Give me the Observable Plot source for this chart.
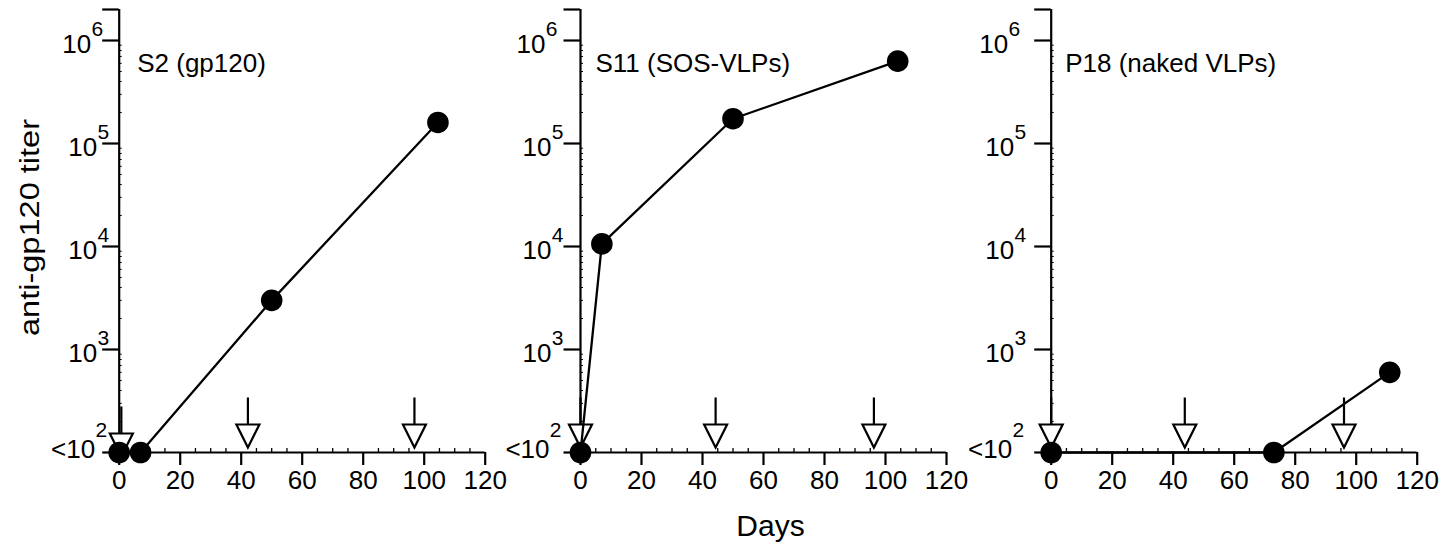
<!DOCTYPE html>
<html>
<head>
<meta charset="utf-8">
<script src="https://cdn.jsdelivr.net/npm/d3@7"></script>
<script src="https://cdn.jsdelivr.net/npm/@observablehq/plot@0.6"></script>
<style>
  html, body { margin: 0; padding: 0; background: #fff; }
  #wrap { position: relative; width: 1442px; height: 546px; overflow: hidden; background: #fff; }
  .panel { position: absolute; top: 0; }
</style>
</head>
<body>
<div id="wrap"></div>
<script>
// ---------------- data ----------------
const panelNames = ["S2 (gp120)", "S11 (SOS-VLPs)", "P18 (naked VLPs)"];

const s2Days   = [0, 7, 50, 104.5];
const s2Titer  = [100, 100, 3000, 160000];
const s11Days  = [0, 7, 50, 104];
const s11Titer = [100, 10600, 174000, 630000];
const p18Days  = [0, 73, 111];
const p18Titer = [100, 100, 600];

// immunization arrows (days)
const s2Arrows  = [0.7, 42.2, 96.8];
const s11Arrows = [0, 44.3, 96.2];
const p18Arrows = [0, 43.8, 96];

const xTicks = [0, 20, 40, 60, 80, 100, 120];
const yMajor = [100, 1e3, 1e4, 1e5, 1e6, 2e6];
const yDecades = [1e3, 1e4, 1e5];
const yDecadeExps = ["3", "4", "5"];
const yTopDecade = [1e6];
const yTopExp = ["6"];
const yBase = [100];
const yBaseText = ["<10"];
const yBaseExp = ["2"];
const yTitle = "anti-gp120 titer";
const xTitle = "Days";

// ---------------- layout / style ----------------
const FONT = '"Liberation Sans", Arial, Helvetica, sans-serif';
const layout = [
  {left: 0,   width: 490, ml: 118.7, mr: 5.3,  lab: -10, titleDx: 18, firstArrowDy: 9},
  {left: 490, width: 470, ml: 90,    mr: 14,   lab: -17, titleDx: 15, firstArrowDy: 0},
  {left: 960, width: 482, ml: 90.7,  mr: 25.3, lab: -25, titleDx: 14, firstArrowDy: 0}
];
const H = 546, MT = 9, MB = 94;

const series = [
  {days: s2Days, titer: s2Titer, arrows: s2Arrows},
  {days: s11Days, titer: s11Titer, arrows: s11Arrows},
  {days: p18Days, titer: p18Titer, arrows: p18Arrows}
];

const yMinor = [];
for (let k = 2; k <= 5; k++) for (let m = 2; m <= 9; m++) yMinor.push(m * Math.pow(10, k));
const xMinor = d3.range(5, 120, 5).filter(d => d % 20 !== 0);

const arrowSymbol = {
  draw(ctx) {
    ctx.moveTo(0, -55); ctx.lineTo(0, -28);
    ctx.moveTo(-11.5, -28); ctx.lineTo(11.5, -28); ctx.lineTo(0, -5); ctx.closePath();
  }
};

const wrap = document.getElementById("wrap");

series.forEach((s, i) => {
  const L = layout[i];
  const pts = s.days.map((d, j) => ({day: d, titer: s.titer[j]}));
  const arrows = s.arrows.map(d => ({day: d, titer: yBase[0]}));
  const marks = [
    Plot.ruleX([0], {stroke: "black", strokeWidth: 2.2}),
    Plot.ruleY([yBase[0]], {stroke: "black", strokeWidth: 2.2}),
    Plot.axisX({ticks: xTicks, tickSize: 13, tickPadding: 5, strokeWidth: 2.2, fontSize: 26, label: null, tickFormat: d => String(d)}),
    Plot.axisX({ticks: xMinor, tickSize: 4, dy: -4, strokeWidth: 1.3, tickFormat: () => "", label: null}),
    Plot.axisY({ticks: yMajor, tickSize: 16.5, strokeWidth: 2.2, tickFormat: () => "", label: null}),
    Plot.axisY({ticks: yMinor, tickSize: 3, dx: 3, strokeWidth: 1, tickFormat: () => "", label: null}),
    // decade labels 10^k
    Plot.text(yDecades, {y: d => d, text: () => "10", frameAnchor: "left", textAnchor: "end", lineAnchor: "bottom", dx: L.lab - 12, dy: 12, fontSize: 26}),
    Plot.text(yDecades, {y: d => d, text: (d, j) => yDecadeExps[j], frameAnchor: "left", textAnchor: "end", lineAnchor: "bottom", dx: L.lab, dy: -5, fontSize: 21}),
    Plot.text(yTopDecade, {y: d => d, text: () => "10", frameAnchor: "left", textAnchor: "end", lineAnchor: "bottom", dx: L.lab - 18, dy: 12, fontSize: 26}),
    Plot.text(yTopDecade, {y: d => d, text: (d, j) => yTopExp[j], frameAnchor: "left", textAnchor: "end", lineAnchor: "bottom", dx: L.lab - 6, dy: -5, fontSize: 21}),
    Plot.text(yBase, {y: d => d, text: (d, j) => yBaseText[j], frameAnchor: "left", textAnchor: "end", lineAnchor: "bottom", dx: L.lab - 14, dy: 5, fontSize: 26}),
    Plot.text(yBase, {y: d => d, text: (d, j) => yBaseExp[j], frameAnchor: "left", textAnchor: "end", lineAnchor: "bottom", dx: L.lab - 2, dy: -16, fontSize: 21}),
    // panel title
    Plot.text([panelNames[i]], {frameAnchor: "top-left", textAnchor: "start", lineAnchor: "bottom", dx: L.titleDx, dy: 62, fontSize: 26}),
    // immunization arrows
    Plot.dot(arrows.slice(0, 1), {x: "day", y: "titer", symbol: arrowSymbol, fill: "white", stroke: "black", strokeWidth: 2.2, dy: L.firstArrowDy}),
    Plot.dot(arrows.slice(1), {x: "day", y: "titer", symbol: arrowSymbol, fill: "white", stroke: "black", strokeWidth: 2.2}),
    // data
    Plot.line(pts, {x: "day", y: "titer", stroke: "black", strokeWidth: 2.3}),
    Plot.dot(pts, {x: "day", y: "titer", r: 10.8, fill: "black", stroke: "none"})
  ];
  if (i === 0) {
    marks.push(Plot.text([yTitle], {frameAnchor: "left", rotate: -90, textAnchor: "middle", lineAnchor: "middle", dx: -88.7, dy: -3.5, fontSize: 27}));
  }
  if (i === 1) {
    marks.push(Plot.text([xTitle], {frameAnchor: "bottom", textAnchor: "middle", lineAnchor: "bottom", dx: 7, dy: 83, fontSize: 30}));
  }
  const chart = Plot.plot({
    width: L.width,
    height: H,
    marginLeft: L.ml,
    marginRight: L.mr,
    marginTop: MT,
    marginBottom: MB,
    x: {domain: [0, 120], axis: null},
    y: {type: "log", domain: [100, 2e6], axis: null},
    style: {background: "transparent", overflow: "visible", fontFamily: FONT, fontSize: "25px", color: "black"},
    marks
  });
  // stretch the rotated y label along its reading direction
  chart.querySelectorAll("text").forEach(t => {
    if (t.textContent.trim() === yTitle) {
      t.setAttribute("textLength", "217");
      t.setAttribute("lengthAdjust", "spacingAndGlyphs");
    }
  });
  const div = document.createElement("div");
  div.className = "panel";
  div.style.left = L.left + "px";
  div.appendChild(chart);
  wrap.appendChild(div);
});
</script>
</body>
</html>
